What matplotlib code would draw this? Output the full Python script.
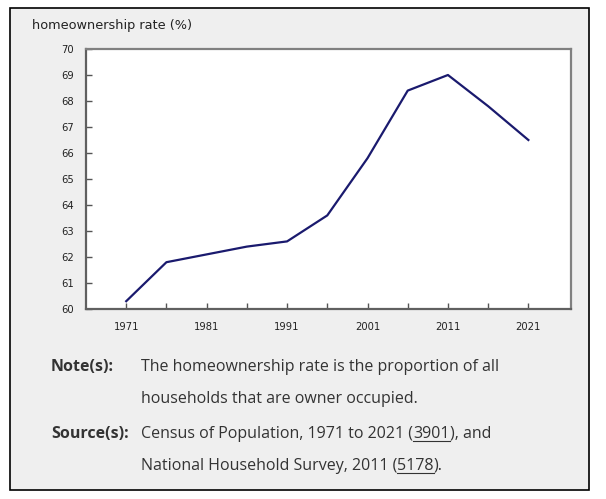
import matplotlib.pyplot as plt
from matplotlib.patches import Rectangle
from matplotlib.lines import Line2D

# data
years = [1971, 1976, 1981, 1986, 1991, 1996, 2001, 2006, 2011, 2016, 2021]
rate = [60.3, 61.8, 62.1, 62.4, 62.6, 63.6, 65.8, 68.4, 69.0, 67.8, 66.5]
label_years = [1971, 1981, 1991, 2001, 2011, 2021]
y_ticks = list(range(60, 71))

W, H = 606, 499
fig = plt.figure(figsize=(W / 100, H / 100), dpi=100)
fig.patch.set_facecolor('white')

# grey panel with black frame
fig.add_artist(Rectangle((10 / W, 1 - 490 / H), 579 / W, 482 / H,
                         transform=fig.transFigure, facecolor='#efefef',
                         edgecolor='black', linewidth=1.2, zorder=-5))

ax = fig.add_axes([86 / W, 1 - 309 / H, 485 / W, 260 / H])
ax.set_zorder(2)
ax.set_facecolor('white')
ax.plot(years, rate, color='#1a1a6e', linewidth=1.6)
ax.set_xlim(1966, 2026.3)
ax.set_ylim(60, 70)

ax.set_xticks(years)
ax.set_xticklabels([str(y) if y in label_years else '' for y in years])
ax.set_yticks(y_ticks)
ax.tick_params(direction='in', length=4, width=1, color='#555555',
               labelsize=7.2, labelcolor='#222222')
ax.tick_params(axis='x', pad=9)
ax.tick_params(axis='y', pad=9)
for s in ax.spines.values():
    s.set_color('#808080')
    s.set_linewidth(1.6)
ax.spines['left'].set_color('#606060')
ax.spines['bottom'].set_color('#606060')

fig.text(32 / W, 1 - 25 / H, 'homeownership rate (%)', fontsize=9.3,
         color='#222222', va='center', ha='left', zorder=3)

# notes, with underlined links
txt_color = '#333333'
fs = 11.5
fam = 'Open Sans'
fig.canvas.draw()
renderer = fig.canvas.get_renderer()


def put(x_px, y_px, parts, weight='normal'):
    x = x_px
    for s, underline in parts:
        t = fig.text(x / W, 1 - y_px / H, s, fontsize=fs, family=fam,
                     color=txt_color, va='baseline', ha='left', weight=weight,
                     zorder=3)
        bb = t.get_window_extent(renderer)
        if underline:
            yy = 1 - (y_px + 3) / H
            fig.add_artist(Line2D([bb.x0 / W, bb.x1 / W], [yy, yy],
                                  transform=fig.transFigure, color=txt_color,
                                  linewidth=0.8, zorder=3))
        x = bb.x1


put(51, 371, [('Note(s):', False)], weight='bold')
put(141, 371, [('The homeownership rate is the proportion of all', False)])
put(141, 403, [('households that are owner occupied.', False)])
put(51, 438, [('Source(s):', False)], weight='bold')
put(141, 438, [('Census of Population, 1971 to 2021 (', False), ('3901', True),
               ('), and', False)])
put(141, 470, [('National Household Survey, 2011 (', False), ('5178', True),
               (').', False)])

fig.savefig('out.png', dpi=100, facecolor=fig.get_facecolor())
